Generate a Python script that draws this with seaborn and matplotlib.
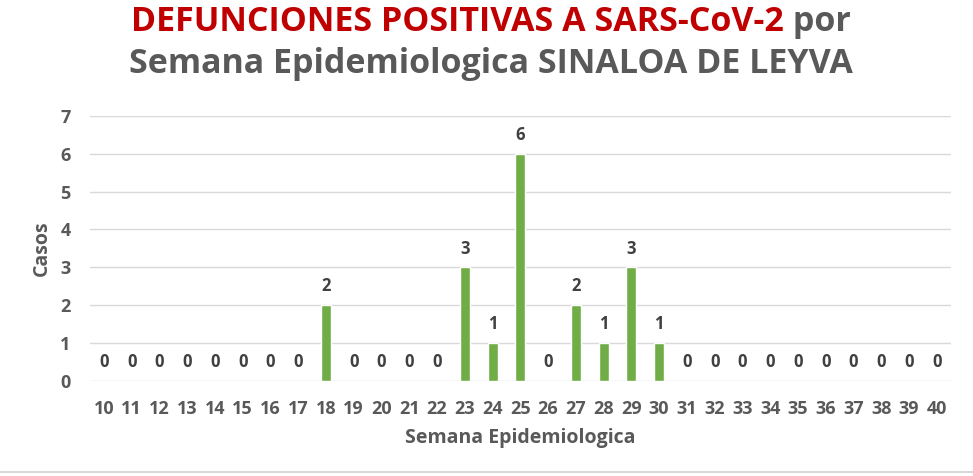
import matplotlib
matplotlib.use("Agg")
import matplotlib.pyplot as plt
import seaborn as sns
import pandas as pd

semanas = list(range(10, 41))
casos = [0, 0, 0, 0, 0, 0, 0, 0, 2, 0, 0, 0, 0, 3, 1, 6, 0, 2, 1, 3, 1,
         0, 0, 0, 0, 0, 0, 0, 0, 0, 0]
y_ticks = list(range(0, 8))

titulo_rojo = "DEFUNCIONES POSITIVAS A SARS-CoV-2"
titulo_gris = " por"
titulo_linea2 = "Semana Epidemiologica SINALOA DE LEYVA"

df = pd.DataFrame({"semana": [str(s) for s in semanas], "casos": casos})

sns.set_theme(style="white")
plt.rcParams["font.family"] = ["Open Sans", "DejaVu Sans"]

GRIS = "#595959"
VERDE = "#70AD47"
ROJO = "#C00000"

fig = plt.figure(figsize=(9.73, 4.76), dpi=100)
ax = fig.add_axes([0.0925, 0.1996, 0.8845, 0.5571])

sns.barplot(data=df, x="semana", y="casos", color=VERDE, width=0.36,
            saturation=1, ax=ax)

ax.set_ylim(0, 7)
ax.set_xlim(-0.5, len(semanas) - 0.5)
ax.set_yticks(y_ticks)
ax.yaxis.grid(True, color="#D9D9D9", linewidth=1)
ax.set_axisbelow(True)
for s in ax.spines.values():
    s.set_visible(False)
ax.tick_params(axis="both", length=0, labelsize=13, labelcolor=GRIS)
ax.tick_params(axis="y", pad=14)
ax.tick_params(axis="x", pad=14)
for lbl in ax.get_xticklabels() + ax.get_yticklabels():
    lbl.set_fontweight("bold")

for i, v in enumerate(casos):
    ax.annotate(str(v), (i, v), xytext=(0, 13.5), textcoords="offset points",
                ha="center", va="center", fontsize=12, fontweight="bold",
                color="#404040")

ax.set_xlabel("Semana Epidemiologica", fontsize=14, fontweight="bold",
              color=GRIS, labelpad=7)
ax.set_ylabel("Casos", fontsize=14, fontweight="bold", color=GRIS,
              labelpad=6)

# Two-colour first title line, centred as a whole
fig.canvas.draw()
r = fig.canvas.get_renderer()
t1 = fig.text(0, 1 - 22 / 476, titulo_rojo, fontsize=24.5, fontweight="bold",
              color=ROJO, va="center", ha="left")
t2 = fig.text(0, 1 - 22 / 476, titulo_gris, fontsize=24.5, fontweight="bold",
              color=GRIS, va="center", ha="left")
w1 = t1.get_window_extent(r).width / fig.bbox.width
w2 = t2.get_window_extent(r).width / fig.bbox.width
x0 = 0.505 - (w1 + w2) / 2
t1.set_x(x0)
t2.set_x(x0 + w1)
fig.text(0.505, 1 - 64 / 476, titulo_linea2, fontsize=24.5, fontweight="bold",
         color=GRIS, va="center", ha="center")

fig.add_artist(plt.Line2D([0, 1], [1 - 472 / 476] * 2, color="#D9D9D9",
                          linewidth=1.5, transform=fig.transFigure))

fig.savefig("out.png", dpi=100)
